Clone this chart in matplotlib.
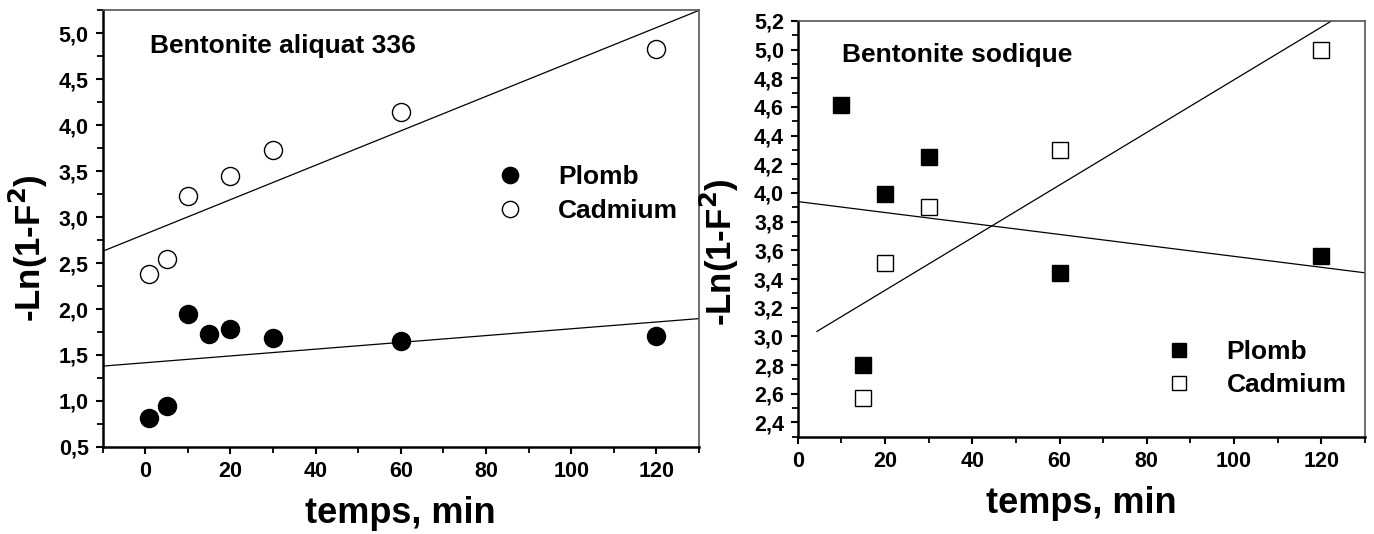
import matplotlib.pyplot as plt
import numpy as np
from matplotlib.ticker import MultipleLocator

plt.rcParams['font.family'] = ['Liberation Sans', 'DejaVu Sans']
plt.rcParams['font.weight'] = 'bold'

# Bentonite aliquat 336
t_ali = [1, 5, 10, 15, 20, 30, 60, 120]
pb_ali = [0.81, 0.95, 1.95, 1.73, 1.78, 1.68, 1.65, 1.71]
t_ali_cd = [1, 5, 10, 20, 30, 60, 120]
cd_ali = [2.38, 2.54, 3.23, 3.45, 3.73, 4.14, 4.83]
# linear fits (intercept, slope)
fit_pb_ali = (1.416, 0.00369)
fit_cd_ali = (2.815, 0.01871)

# Bentonite sodique
t_sod_pb = [10, 15, 20, 30, 60, 120]
pb_sod = [4.61, 2.80, 3.99, 4.25, 3.44, 3.56]
t_sod_cd = [15, 20, 30, 60, 120]
cd_sod = [2.57, 3.51, 3.90, 4.30, 5.00]
fit_pb_sod = (3.94, -0.00382)
fit_cd_sod = (2.954, 0.01835)


def comma(x, pos):
    return ('%.1f' % x).replace('.', ',')


def style_axes(ax, xlim, ylim, ymaj, ymin, ylab_pos):
    ax.set_xlim(*xlim)
    ax.set_ylim(*ylim)
    ax.xaxis.set_major_locator(MultipleLocator(20))
    ax.xaxis.set_minor_locator(MultipleLocator(10))
    ax.yaxis.set_major_locator(MultipleLocator(ymaj))
    ax.yaxis.set_minor_locator(MultipleLocator(ymin))
    ax.yaxis.set_major_formatter(plt.FuncFormatter(comma))
    ax.tick_params(which='major', direction='out', length=5, width=1.5,
                   labelsize=15.5, pad=5)
    ax.tick_params(which='minor', direction='out', length=4, width=1.3)
    ax.tick_params(top=False, right=False, which='both')
    for s in ['left', 'bottom']:
        ax.spines[s].set_linewidth(1.8)
    for s in ['top', 'right']:
        ax.spines[s].set_linewidth(1.2)
        ax.spines[s].set_color('#555555')
    ax.set_xlabel('temps, min', fontsize=26, fontweight='bold', labelpad=10)
    ax.set_ylabel(r'-Ln(1-F$^\mathbf{2}$)', fontsize=25, fontweight='bold')
    ax.yaxis.set_label_coords(*ylab_pos)


fig = plt.figure(figsize=(13.74, 5.34), dpi=100)
ax1 = fig.add_axes([0.0747, 0.163, 0.434, 0.818])
ax2 = fig.add_axes([0.5806, 0.182, 0.4128, 0.779])

style_axes(ax1, (-10, 130), (0.5, 5.25), 0.5, 0.25, (-0.088, 0.455))
xx = np.array([-10, 130])
ax1.plot(xx, fit_pb_ali[0] + fit_pb_ali[1] * xx, color='black', lw=0.9)
ax1.plot(xx, fit_cd_ali[0] + fit_cd_ali[1] * xx, color='black', lw=0.9)
ax1.plot(t_ali, pb_ali, 'o', ms=13, color='black', label='Plomb')
ax1.plot(t_ali_cd, cd_ali, 'o', ms=13, mfc='white', mec='black', mew=1.0,
         label='Cadmium')
ax1.text(0.079, 0.918, 'Bentonite aliquat 336', transform=ax1.transAxes,
         fontsize=19, fontweight='bold', va='center', ha='left')
ax1.legend(loc='center left', bbox_to_anchor=(0.622, 0.578), frameon=False,
           fontsize=19, handlelength=1.0, handletextpad=1.3, labelspacing=0.38,
           markerscale=0.9)

style_axes(ax2, (0, 130), (2.3, 5.2), 0.2, 0.1, (-0.10, 0.445))
xp = np.array([0, 130])
ax2.plot(xp, fit_pb_sod[0] + fit_pb_sod[1] * xp, color='black', lw=0.9)
xc = np.array([4.4, 130])
ax2.plot(xc, fit_cd_sod[0] + fit_cd_sod[1] * xc, color='black', lw=0.9)
ax2.plot(t_sod_pb, pb_sod, 's', ms=11, color='black', label='Plomb')
ax2.plot(t_sod_cd, cd_sod, 's', ms=11, mfc='white', mec='black', mew=1.0,
         label='Cadmium')
ax2.text(0.078, 0.918, 'Bentonite sodique', transform=ax2.transAxes,
         fontsize=19, fontweight='bold', va='center', ha='left')
ax2.legend(loc='center left', bbox_to_anchor=(0.607, 0.164), frameon=False,
           fontsize=19, handlelength=1.0, handletextpad=1.3, labelspacing=0.35,
           markerscale=0.95)

fig.savefig('out.png', dpi=100)
